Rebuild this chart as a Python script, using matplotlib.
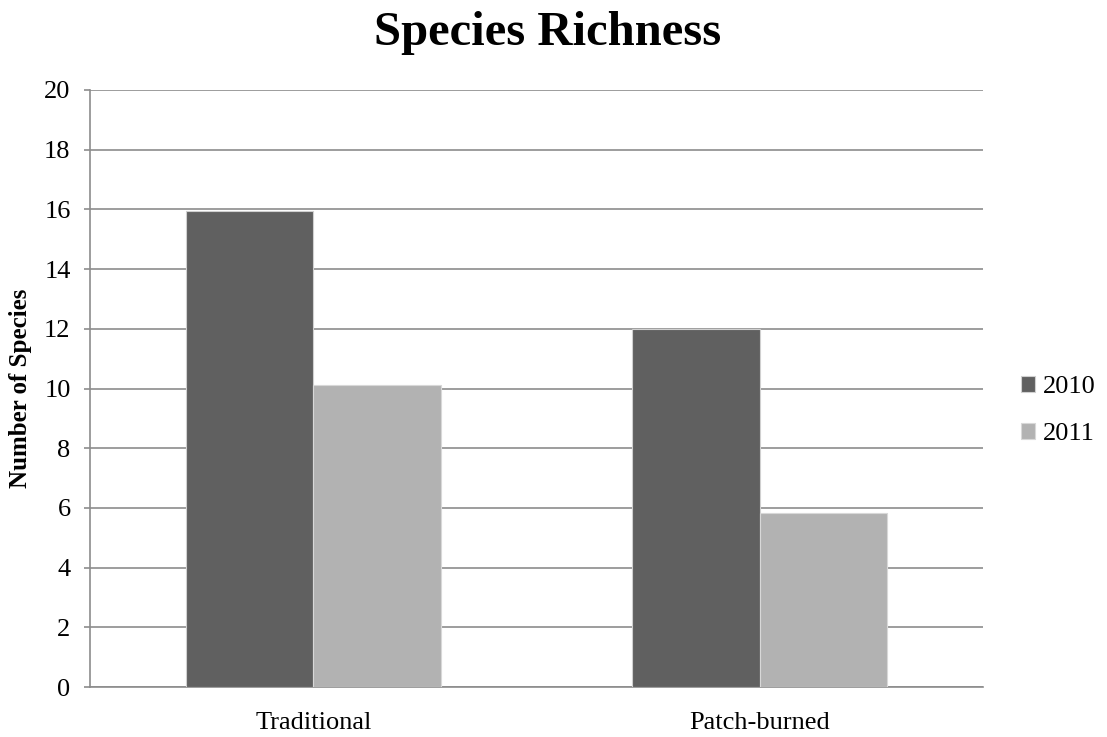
import numpy as np
import matplotlib
matplotlib.use("Agg")
import matplotlib.pyplot as plt

categories = ["Traditional", "Patch-burned"]
years = ["2010", "2011"]
richness_2010 = [15.93, 12.0]
richness_2011 = [10.13, 5.82]
y_ticks = [0, 2, 4, 6, 8, 10, 12, 14, 16, 18, 20]

colors = ["#606060", "#B2B2B2"]
serif = ["Liberation Serif", "DejaVu Serif"]

fig = plt.figure(figsize=(11.07, 7.37), dpi=100)
ax = fig.add_axes([90 / 1107, 50 / 737, 893 / 1107, 597 / 737])

x = np.arange(len(categories))
width = 0.285
ax.bar(x - width / 2, richness_2010, width, color=colors[0], edgecolor="#D0D0D0",
       linewidth=0.8, label=years[0], zorder=3)
ax.bar(x + width / 2, richness_2011, width, color=colors[1], edgecolor="#D8D8D8",
       linewidth=0.8, label=years[1], zorder=3)

ax.set_xlim(-0.5, 1.5)
ax.set_ylim(0, 20)
ax.set_yticks(y_ticks)
ax.set_xticks(x)
ax.set_xticklabels(categories, fontfamily=serif, fontsize=19)
for lbl in ax.get_yticklabels():
    lbl.set_fontfamily(serif)
    lbl.set_fontsize(19)

ax.yaxis.grid(True, color="#8C8C8C", linewidth=1.2, zorder=0)
ax.set_axisbelow(True)
for side in ["top", "right"]:
    ax.spines[side].set_visible(False)
ax.spines["left"].set_color("#8C8C8C")
ax.spines["left"].set_linewidth(1.2)
ax.spines["bottom"].set_color("#8C8C8C")
ax.spines["bottom"].set_linewidth(1.2)
ax.tick_params(axis="y", length=4, width=1.2, color="#8C8C8C", pad=10)
ax.tick_params(axis="x", length=0, pad=18)

ax.set_ylabel("Number of Species", fontfamily=serif, fontsize=18, fontweight="bold",
              labelpad=9)
fig.text(0.495, 0.955, "Species Richness", ha="center", va="center",
         fontfamily=serif, fontsize=35, fontweight="bold")

fig.legend(loc="upper left", bbox_to_anchor=(1021 / 1107, 1 - 376 / 737),
           frameon=False, prop={"family": serif, "size": 19},
           handlelength=0.53, handleheight=0.53, handletextpad=0.3,
           labelspacing=0.95, borderaxespad=0, borderpad=0)

fig.savefig("out.png", dpi=100, facecolor="white")
